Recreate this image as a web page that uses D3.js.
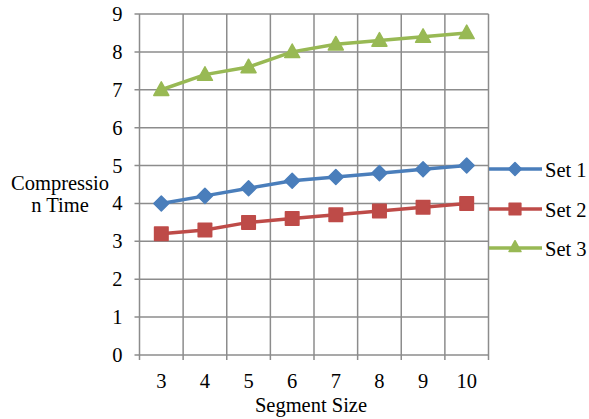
<!DOCTYPE html>
<html><head><meta charset="utf-8">
<script src="https://cdn.jsdelivr.net/npm/d3@7"></script>
<style>body{margin:0;background:#fff}svg{display:block}</style>
</head><body><svg id="c" width="589" height="419"></svg>
<script>
const categories = [3,4,5,6,7,8,9,10];
const set1 = [4.0,4.2,4.4,4.6,4.7,4.8,4.9,5.0];
const set2 = [3.2,3.3,3.5,3.6,3.7,3.8,3.9,4.0];
const set3 = [7.0,7.4,7.6,8.0,8.2,8.3,8.4,8.5];
const yTicks = [0,1,2,3,4,5,6,7,8,9];
const seriesNames = ["Set 1","Set 2","Set 3"];
const colors = ["#4a7ebb","#be4b48","#98b954"];
const series = [set1,set2,set3];
const FF = "Liberation Serif, Tinos, Times New Roman, DejaVu Serif";
const FS = "20.5px";

const svg = d3.select("#c");
const L=139.5, R=488.5, T=14, B=355;
const x = d3.scaleBand().domain(categories).range([L,R]);
const y = d3.scaleLinear().domain([0,9]).range([B,T]);
const grid="#8c8c8c";

function marker(k, s){
  if(k===0) return `M0,${-s}L${s},0L0,${s}L${-s},0Z`;
  if(k===1) return `M${-s*0.9},${-s*0.9}H${s*0.9}V${s*0.9}H${-s*0.9}Z`;
  return `M0,${-s*1.05}L${s},${s*0.75}L${-s},${s*0.75}Z`;
}

svg.append("g").selectAll("line").data(yTicks).join("line")
  .attr("x1",L-5).attr("x2",R).attr("y1",d=>y(d)).attr("y2",d=>y(d))
  .attr("stroke",grid).attr("stroke-width",1.5);
const bounds = categories.map(c=>x(c)).concat([R]);
svg.append("g").selectAll("line").data(bounds).join("line")
  .attr("x1",d=>d).attr("x2",d=>d).attr("y1",T).attr("y2",B+5)
  .attr("stroke",grid).attr("stroke-width",1.5);

svg.append("g").selectAll("text").data(yTicks).join("text")
  .style("font-family",FF)
  .attr("x",122.5).attr("y",d=>y(d)+7).attr("text-anchor","end")
  .style("font-size",FS).text(d=>d);
svg.append("g").selectAll("text").data(categories).join("text")
  .style("font-family",FF)
  .attr("x",d=>x(d)+x.bandwidth()/2).attr("y",388).attr("text-anchor","middle")
  .style("font-size",FS).text(d=>d);
svg.append("text").style("font-family",FF).attr("x",311).attr("y",411.5).attr("text-anchor","middle")
  .style("font-size",FS).text("Segment Size");
svg.append("text").style("font-family",FF).attr("x",60).attr("y",190).attr("text-anchor","middle")
  .style("font-size",FS).text("Compressio");
svg.append("text").style("font-family",FF).attr("x",60).attr("y",212).attr("text-anchor","middle")
  .style("font-size",FS).text("n Time");

const line = d3.line().x((d,i)=>x(categories[i])+x.bandwidth()/2).y(d=>y(d));
series.forEach((s,k)=>{
  svg.append("path").datum(s).attr("d",line).attr("fill","none")
    .attr("stroke",colors[k]).attr("stroke-width",3.5);
  svg.append("g").selectAll("path").data(s).join("path")
    .attr("transform",(d,i)=>`translate(${x(categories[i])+x.bandwidth()/2},${y(d)})`)
    .attr("d",marker(k,7.5)).attr("fill",colors[k])
    .attr("stroke",colors[k]).attr("stroke-width",1.5).attr("stroke-linejoin","round");
});

const ly=[169,209,248];
seriesNames.forEach((n,k)=>{
  const g=svg.append("g");
  g.append("line").attr("x1",489).attr("x2",542).attr("y1",ly[k]).attr("y2",ly[k])
    .attr("stroke",colors[k]).attr("stroke-width",3.5);
  g.append("path").attr("transform",`translate(515,${ly[k]+(k===2?-1:0)})`)
    .attr("d",marker(k,k===2?6:6.5)).attr("fill",colors[k])
    .attr("stroke",colors[k]).attr("stroke-width",1.5).attr("stroke-linejoin","round");
  g.append("text").style("font-family",FF).attr("x",545).attr("y",ly[k]+8).style("font-size",FS).text(n);
});
</script></body></html>
